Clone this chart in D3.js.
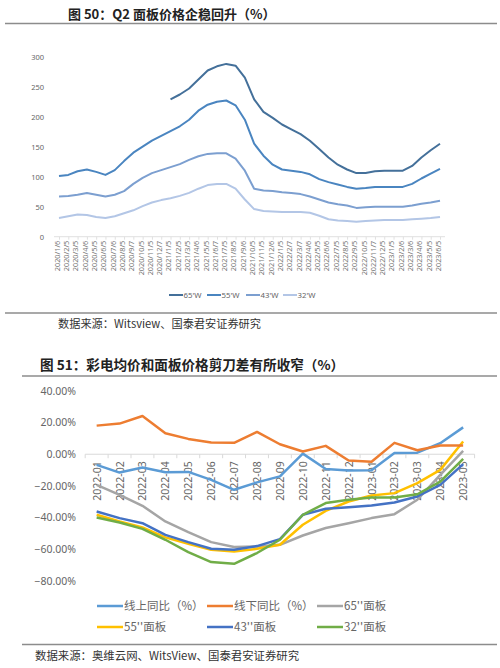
<!DOCTYPE html>
<html><head><meta charset="utf-8">
<script src="https://cdn.jsdelivr.net/npm/d3@7"></script>
<style>
body{margin:0;background:#fff;}
svg{display:block;font-family:"Noto Sans CJK SC","Noto Sans",sans-serif;}
</style></head>
<body>
<svg id="c" width="500" height="668"></svg>
<script>
// ---------- Figure 50 data ----------
const dates = ["2020/1/6","2020/2/5","2020/3/5","2020/4/6","2020/5/5","2020/6/5","2020/7/6","2020/8/5","2020/9/7","2020/10/5","2020/11/5","2020/12/7","2021/1/5","2021/2/5","2021/3/5","2021/4/6","2021/5/5","2021/6/7","2021/7/5","2021/8/5","2021/9/6","2021/10/5","2021/11/5","2021/12/6","2022/1/5","2022/2/7","2022/3/7","2022/4/6","2022/5/5","2022/6/6","2022/7/5","2022/8/5","2022/9/5","2022/10/5","2022/11/7","2022/12/5","2023/1/5","2023/2/6","2023/3/6","2023/4/6","2023/5/5","2023/6/5"];
const p65 = [null,null,null,null,null,null,null,null,null,null,null,null,229,237,247,262,277,284,288,285,265,229,208,198,187,179,171,160,146,132,120,112,106,106,109,110,110,110,118,132,144,155];
const p55 = [101,103,109,112,108,103,111,126,140,150,160,168,176,184,195,210,220,225,227,219,195,155,135,120,112,110,108,104,96,91,87,83,80,81,83,83,83,83,88,97,105,113];
const p43 = [67,68,70,73,70,67,70,76,88,98,106,111,116,121,128,134,138,139,139,130,110,80,77,76,74,73,71,67,62,57,54,52,48,49,50,50,50,50,52,55,57,60];
const p32 = [31,34,37,36,33,31,34,39,44,51,57,61,64,68,73,80,86,88,88,80,62,46,43,42,41,41,41,40,35,29,27,26,25,26,27,28,28,28,29,30,31,33];
const topNames = ["65'W","55'W","43'W","32'W"];
const topTicks = [0,50,100,150,200,250,300];

// ---------- Figure 51 data ----------
const months = ["2022-01","2022-02","2022-03","2022-04","2022-05","2022-06","2022-07","2022-08","2022-09","2022-10","2022-11","2022-12","2023-01","2023-02","2023-03","2023-04","2023-05"];
const online  = [-6.7,-11.6,-8.4,-11.4,-11.2,-16.2,-22.5,-17.8,-14,0.4,-9.3,-10.3,-10.1,0.8,1.0,7,17];
const offline = [18.1,19.4,24.2,13.3,9.7,7.4,7.2,14.1,6.3,1.7,5.3,-4,-4.8,7.2,2.5,5.5,5.5];
const s65 = [-19.4,-25.7,-32.6,-42.5,-49.3,-55.6,-58.7,-58.3,-57.3,-51.4,-46.7,-43.6,-40.4,-37.9,-28.8,-13,2.1];
const s55 = [-38.3,-42.5,-46.3,-52.6,-56.6,-60.4,-61.5,-59.8,-57.3,-44.6,-35.8,-29.9,-26.1,-24.6,-18.3,-9.9,8];
const s43 = [-36.2,-40.4,-43.6,-51,-55.6,-59.8,-60.4,-58.1,-53.7,-38.3,-34.5,-33.5,-32.4,-30.5,-26.7,-19.4,-6.3];
const s32 = [-40,-43.2,-47.2,-54.1,-61.9,-68.2,-69.3,-62.5,-54.1,-38.3,-30.9,-28.8,-27.4,-27.4,-25.3,-17.3,-2.9];
const botNames = ["线上同比（%）","线下同比（%）","65''面板","55''面板","43''面板","32''面板"];
const botTicks = [-80,-60,-40,-20,0,20,40];

const svg = d3.select("#c");

// ---------- headers / rules ----------
function rule(x1,x2,y){svg.append("line").attr("x1",x1).attr("x2",x2).attr("y1",y).attr("y2",y).attr("stroke","#8c8c8c").attr("stroke-width",1.5);}
svg.append("text").attr("x",68).attr("y",18.5).attr("font-size",13).attr("font-weight","bold").attr("fill","#222").text("图 50：Q2 面板价格企稳回升（%）");
rule(5,497,23.5);
rule(5,497,313);
svg.append("text").attr("x",58).attr("y",328).attr("font-size",11.2).attr("fill","#333").text("数据来源：Witsview、国泰君安证券研究");
svg.append("text").attr("x",40).attr("y",370).attr("font-size",13.6).attr("font-weight","bold").attr("fill","#222").text("图 51：彩电均价和面板价格剪刀差有所收窄（%）");
rule(22,497,376);
rule(22,497,644.5);
svg.append("text").attr("x",35).attr("y",660).attr("font-size",11.4).attr("fill","#333").text("数据来源：奥维云网、WitsView、国泰君安证券研究");

// ---------- Figure 50 chart ----------
const x1 = d3.scalePoint().domain(dates).range([59,440]);
const y1 = d3.scaleLinear().domain([0,300]).range([236.7,56.7]);
const g1 = svg.append("g");
// y labels
g1.append("g").attr("transform","translate(47,0)")
  .call(d3.axisLeft(y1).tickValues(topTicks).tickSize(0).tickPadding(3))
  .call(g=>g.select(".domain").remove())
  .call(g=>g.selectAll("text").attr("font-size",7.5).attr("fill","#666").attr("font-family","Noto Sans, sans-serif"));
// x axis
const xa1 = g1.append("g").attr("transform","translate(0,236.7)")
  .call(d3.axisBottom(x1).tickSize(3).tickPadding(2));
xa1.select(".domain").attr("stroke","#e0e0e0").attr("d","M54,0H445");
xa1.selectAll(".tick line").attr("stroke","#e0e0e0");
xa1.selectAll("text").attr("font-size",7.3).attr("fill","#777").attr("font-family","Noto Sans, sans-serif")
  .attr("text-anchor","end").attr("transform","translate(-2.6,4) rotate(-90)").attr("dy","0").attr("y",0).attr("x",0).attr("dominant-baseline","central");
const topSeries = [p65,p55,p43,p32];
const topColors = ["#44709a","#4a85c0","#7c9fd0","#b3c6e6"];
const line1 = d3.line().defined(d=>d!=null).x((d,i)=>x1(dates[i])).y(d=>y1(d));
topSeries.forEach((s,i)=>{
  g1.append("path").datum(s).attr("d",line1).attr("fill","none").attr("stroke",topColors[i]).attr("stroke-width",2).attr("stroke-linejoin","round");
});
// legend
const lgx = [169,207,246,283];
topNames.forEach((n,i)=>{
  g1.append("line").attr("x1",lgx[i]).attr("x2",lgx[i]+14).attr("y1",295).attr("y2",295).attr("stroke",topColors[i]).attr("stroke-width",2);
  g1.append("text").attr("x",lgx[i]+14.5).attr("y",297.8).attr("font-size",7.8).attr("fill","#666").attr("font-family","Noto Sans, sans-serif").text(n);
});

// ---------- Figure 51 chart ----------
const x2 = d3.scaleBand().domain(months).range([85.2,474.6]);
const y2 = d3.scaleLinear().domain([-80,40]).range([580.7,391]);
const g2 = svg.append("g");
g2.append("g").attr("transform","translate(76,0)")
  .call(d3.axisLeft(y2).tickValues(botTicks).tickSize(0).tickPadding(0).tickFormat(d=>d3.format(".2f")(d)+"%"))
  .call(g=>g.select(".domain").remove())
  .call(g=>g.selectAll("text").attr("font-size",10.5).attr("fill","#666").attr("font-family","Noto Sans, sans-serif"));
// zero axis
const z = y2(0);
g2.append("line").attr("x1",85.2).attr("x2",474.6).attr("y1",z).attr("y2",z).attr("stroke","#d9d9d9").attr("stroke-width",1);
months.concat([null]).forEach((m,i)=>{
  const xx = m ? x2(m) : x2.range()[1];
  g2.append("line").attr("x1",xx).attr("x2",xx).attr("y1",z).attr("y2",z+4).attr("stroke","#d9d9d9");
});
months.forEach(m=>{
  g2.append("text").attr("transform",`translate(${x2(m)+x2.bandwidth()/2},${z+7}) rotate(-90)`)
    .attr("text-anchor","end").attr("dominant-baseline","central").attr("font-size",10.5).attr("fill","#666")
    .attr("font-family","Noto Sans, sans-serif").text(m);
});
const botSeries = [online,offline,s65,s55,s43,s32];
const botColors = ["#5b9bd5","#ed7d31","#a5a5a5","#ffc000","#4472c4","#70ad47"];
const line2 = d3.line().x((d,i)=>x2(months[i])+x2.bandwidth()/2).y(d=>y2(d));
const order = [2,3,4,5,0,1];
order.forEach(i=>{
  g2.append("path").datum(botSeries[i]).attr("d",line2).attr("fill","none").attr("stroke",botColors[i]).attr("stroke-width",2.5).attr("stroke-linejoin","round");
});
// legend
const lx = [97,207,317], ly = [606,627];
botNames.forEach((n,i)=>{
  const cx = lx[i%3], cy = ly[Math.floor(i/3)];
  g2.append("line").attr("x1",cx).attr("x2",cx+26).attr("y1",cy).attr("y2",cy).attr("stroke",botColors[i]).attr("stroke-width",2.5);
  g2.append("text").attr("x",cx+27).attr("y",cy+4).attr("font-size",11.5).attr("fill","#666").text(n);
});
</script>
</body></html>
